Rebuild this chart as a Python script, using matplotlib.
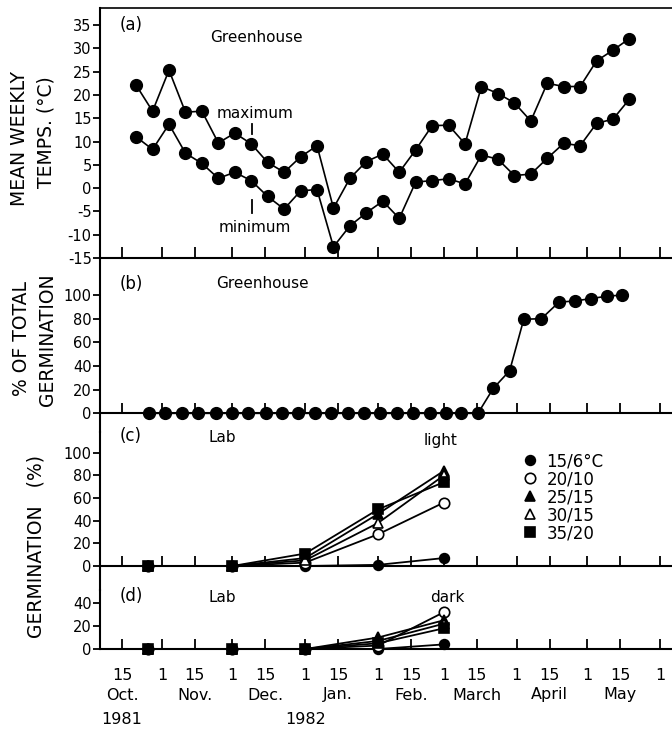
import matplotlib
matplotlib.use("Agg")
import matplotlib.pyplot as plt
from matplotlib.lines import Line2D
from matplotlib.transforms import blended_transform_factory

plt.rcParams['font.family'] = ['DejaVu Sans']
plt.rcParams['axes.unicode_minus'] = False

# ---------------- data (x = days since 1 Oct 1981) ----------------
temp_days = [20, 27, 34, 41, 48, 55, 62, 69, 76, 83, 90, 97, 104, 111, 118, 125,
             132, 139, 146, 153, 160, 167, 174, 181, 188, 195, 202, 209, 216, 223, 230]
temp_max = [22.1, 16.5, 25.3, 16.3, 16.5, 9.7, 11.8, 9.5, 5.5, 3.4, 6.7, 9.1, -4.3,
            2.1, 5.7, 7.3, 3.4, 8.2, 13.4, 13.5, 9.5, 21.8, 20.3, 18.3, 14.4, 22.5,
            21.8, 21.8, 27.3, 29.6, 32.1]
temp_min = [11.0, 8.3, 13.7, 7.5, 5.3, 2.1, 3.4, 1.6, -1.8, -4.5, -0.6, -0.3, -12.6,
            -8.1, -5.3, -2.8, -6.5, 1.3, 1.6, 2.0, 0.9, 7.1, 6.2, 2.7, 3.0, 6.4,
            9.6, 9.1, 13.9, 14.8, 19.1]

gh_days = [25.5, 32.5, 39.5, 46.5, 54, 61, 67.5, 75.5, 82, 89, 96, 103, 110, 117, 124,
           131, 138, 145, 152, 158.5, 165.5, 172, 179, 185, 192.5, 200, 207, 213.5, 220.5, 227]
gh_germ = [0, 0, 0, 0, 0, 0, 0, 0, 0, 0, 0, 0, 0, 0, 0, 0, 0, 0, 0, 0, 0,
           21, 36, 79.5, 80, 94, 95, 97, 99, 100]

lab_days = [25, 61, 92, 123, 151]
regimes = ['15/6°C', '20/10', '25/15', '30/15', '35/20']
light_15_6 = [0, 0, 0, 1, 7]
light_20_10 = [0, 0, 3, 28, 56]
light_25_15 = [0, 0, 7, 46, 84]
light_30_15 = [0, 0, 5, 38, 80]
light_35_20 = [0, 0, 11, 50, 74]
dark_15_6 = [0, 0, 0, 0, 4]
dark_20_10 = [0, 0, 0, 3, 32]
dark_25_15 = [0, 0, 0, 10, 25]
dark_30_15 = [0, 0, 0, 7, 22]
dark_35_20 = [0, 0, 0, 5, 18]

tick_days = [14, 31, 45, 61, 75, 92, 106, 123, 137, 151, 165, 182, 196, 212, 226, 243]
tick_labels = ['15', '1'] * 8
month_days = [14, 45, 75, 106, 137, 165, 196, 226]
month_labels = ['Oct.', 'Nov.', 'Dec.', 'Jan.', 'Feb.', 'March', 'April', 'May']
year_days = [14, 92]
year_labels = ['1981', '1982']

# ---------------- layout ----------------
W, H = 672, 733
fig = plt.figure(figsize=(W / 100, H / 100), dpi=100)


def add_ax(top, bottom):
    return fig.add_axes([100 / W, 1 - bottom / H, (W - 100) / W, (bottom - top) / H])


def ftxt(x, y, s, **kw):
    kw.setdefault('ha', 'center')
    kw.setdefault('va', 'center')
    fig.text(x / W, 1 - y / H, s, **kw)


XL = (4.63, 248.1)
SPW = 1.5

ax_a = add_ax(8, 258)
ax_b = add_ax(258, 432)
ax_c = add_ax(432, 590)
ax_d = add_ax(590, 649)

for ax in (ax_a, ax_b, ax_c, ax_d):
    ax.set_xlim(*XL)
    ax.set_facecolor('none')
    ax.spines['right'].set_visible(False)
    ax.spines['left'].set_linewidth(SPW)
    ax.spines['bottom'].set_linewidth(SPW)
    ax.set_xticks(tick_days)
    ax.tick_params(axis='y', direction='out', length=5, width=1.3, pad=1,
                   labelsize=10.5)
    ax.tick_params(axis='x', direction='in', length=7, width=1.3, top=False)

ax_a.spines['top'].set_linewidth(1.2)
for ax in (ax_b, ax_c, ax_d):
    ax.spines['top'].set_visible(False)
for ax in (ax_b, ax_c):
    ax.spines['bottom'].set_position(('data', 0))

for ax in (ax_a, ax_b, ax_c):
    ax.tick_params(axis='x', labelbottom=False)
ax_a.tick_params(axis='x', length=8)

# ---------------- (a) temperatures ----------------
ax_a.set_ylim(-15, 38.65)
ax_a.set_yticks(range(-15, 36, 5))
ax_a.plot(temp_days, temp_max, '-o', color='black', lw=1.2, ms=8.5, clip_on=False)
ax_a.plot(temp_days, temp_min, '-o', color='black', lw=1.2, ms=8.5, clip_on=False)

# ---------------- (b) greenhouse germination ----------------
ax_b.set_ylim(-15.8, 131.3)
ax_b.set_yticks(range(0, 101, 20))
ax_b.plot(gh_days, gh_germ, '-o', color='black', lw=1.2, ms=8.5, clip_on=False, zorder=3)

# ---------------- (c), (d) lab ----------------
styles = [dict(marker='o', mfc='black', ms=7),
          dict(marker='o', mfc='white', ms=7.5),
          dict(marker='^', mfc='black', ms=7.5),
          dict(marker='^', mfc='white', ms=7.5),
          dict(marker='s', mfc='black', ms=6.5)]
light = [light_15_6, light_20_10, light_25_15, light_30_15, light_35_20]
dark = [dark_15_6, dark_20_10, dark_25_15, dark_30_15, dark_35_20]

ax_c.set_ylim(-21.2, 118.3)
ax_c.set_yticks(range(0, 101, 20))
ax_d.set_ylim(0, 51.3)
ax_d.set_yticks([0, 20, 40])

for ax, series in ((ax_c, light), (ax_d, dark)):
    for vals, st in zip(series, styles):
        ax.plot(lab_days, vals, color='black', mec='black', mew=1.2, lw=1.3,
                clip_on=False, zorder=3, **st)

handles = [Line2D([], [], linestyle='none', color='black', mec='black', mew=1.2, **st)
           for st in styles]
ax_c.legend(handles, regimes, loc='upper left', frameon=False, fontsize=12,
            bbox_to_anchor=(523 / W, 1 - 452 / H), bbox_transform=fig.transFigure,
            borderpad=0, borderaxespad=0, handlelength=0.8, handletextpad=0.6,
            labelspacing=0.0)

# x tick labels
ax_d.set_xticklabels(tick_labels)
ax_d.tick_params(axis='x', labelsize=11.5, pad=14)
tr = blended_transform_factory(ax_d.transData, fig.transFigure)
for d, m in zip(month_days, month_labels):
    ax_d.text(d, 1 - 695 / H, m, transform=tr, ha='center', va='center', fontsize=11.5)
for d, y in zip(year_days, year_labels):
    ax_d.text(d, 1 - 720 / H, y, transform=tr, ha='center', va='center', fontsize=11.5)

# ---------------- annotations ----------------
ftxt(131, 25, '(a)', fontsize=12)
ftxt(256, 37, 'Greenhouse', fontsize=11)
ftxt(255, 114, 'maximum', fontsize=11)
ftxt(255, 228, 'minimum', fontsize=11)
fig.add_artist(Line2D([252 / W, 252 / W], [1 - 124 / H, 1 - 134 / H], color='black', lw=1.3))
fig.add_artist(Line2D([252 / W, 252 / W], [1 - 200 / H, 1 - 213 / H], color='black', lw=1.3))

ftxt(131, 284, '(b)', fontsize=12)
ftxt(262, 284, 'Greenhouse', fontsize=11)

ftxt(131, 436, '(c)', fontsize=12)
ftxt(222, 437, 'Lab', fontsize=11)
ftxt(441, 441, 'light', fontsize=11)

ftxt(131, 596, '(d)', fontsize=12)
ftxt(222, 597, 'Lab', fontsize=11)
ftxt(447, 597, 'dark', fontsize=11)

# y labels
ftxt(20, 139, 'MEAN WEEKLY', fontsize=13.5, rotation=90)
ftxt(46, 132, 'TEMPS. (°C)', fontsize=13.5, rotation=90)
ftxt(22, 339, '% OF TOTAL', fontsize=13.5, rotation=90)
ftxt(47, 340, 'GERMINATION', fontsize=13.5, rotation=90)
ftxt(36, 546, 'GERMINATION   (%)', fontsize=13.5, rotation=90)

fig.savefig('out.png', dpi=100)
